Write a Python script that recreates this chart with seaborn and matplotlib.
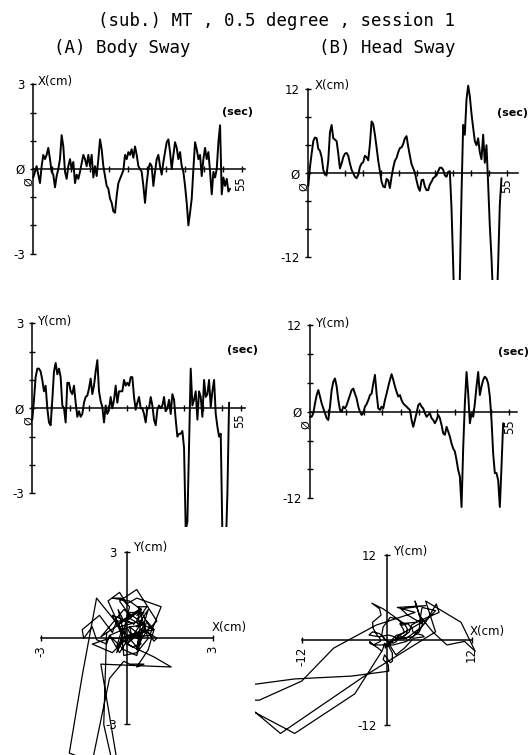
import numpy as np
import matplotlib
matplotlib.use("Agg")
import matplotlib.pyplot as plt
import seaborn as sns

# ---------------- data ----------------
DT_BODY = 0.44   # s between samples, body sway
DT_HEAD = 0.46   # s between samples, head sway

body_x = [
    -0.3, -0.1, 0.1, -0.2, -0.5, 0.1, 0.5, 0.35, 0.5, 0.75,
    0.35, -0.1, -0.2, -0.65, -0.25, 0.0, 0.35, 1.2, 0.8, -0.1,
    -0.35, 0.1, 0.35, 0.0, 0.25, -0.5, -0.2, -0.35, -0.1, 0.2,
    0.5, 0.35, 0.1, 0.5, 0.1, 0.5, -0.3, 0.1, -0.25, 0.35,
    1.05, 0.7, 0.1, -0.25, -0.6, -0.7, -1.05, -1.2, -1.5, -1.55,
    -0.95, -0.5, -0.35, -0.2, -0.05, 0.5, 0.35, 0.6, 0.5, 0.7,
    0.4, 0.8, 0.5, 0.1, 0.0, -0.1, -0.6, -1.2, -0.5, 0.0,
    0.2, 0.1, -0.6, -0.1, 0.35, 0.5, 0.1, -0.2, 0.25, 0.6,
    0.95, 1.05, 0.6, 0.0, 0.5, 0.95, 0.75, 0.35, 0.6, 0.1,
    -0.1, -0.6, -1.2, -2.0, -1.55, -1.05, 0.0, 0.95, 0.7, 0.35,
    0.5, -0.25, 0.35, 0.75, 0.35, 0.6, -0.1, -0.9, -0.1, -0.3,
    0.0, 0.95, 1.55, -0.9, -0.3, -0.6, -0.35, -0.8, -0.7,
]
body_y = [
    -0.4, 0.3, 1.1, 1.4, 1.4, 1.3, 1.0, 0.6, 0.8, 0.0,
    -0.5, -0.6, 0.3, 1.3, 1.6, 1.2, 1.4, 1.1, 0.1, 0.0,
    -0.5, 0.9, 0.9, 0.6, 0.5, 0.8, 0.2, -0.3, -0.1, -0.3,
    -0.2, 0.2, 0.4, 0.45, 0.7, 1.05, 0.5, 0.8, 1.3, 1.7,
    0.6, 0.25, 0.05, -0.5, 0.1, -0.2, -0.05, 0.4, 0.0, 0.3,
    0.8, 0.2, 0.6, 0.6, 0.6, 1.0, 0.8, 0.9, 0.8, 1.1,
    1.1, 0.4, -0.05, 0.2, 0.4, 0.0, 0.0, -0.2, -0.5, 0.0,
    0.0, 0.4, 0.1, -0.4, -0.6, -0.05, 0.1, 0.0, 0.1, 0.4,
    -0.1, 0.0, 0.3, -0.2, 0.5, 0.3, -0.4, -1.0, -0.9, -0.9,
    -0.8, -1.4, -4.3, -4.0, -1.3, 1.4, 0.1, 0.3, 0.6, -0.4,
    0.6, 0.4, -0.3, 1.0, 0.4, 0.5, 1.0, 0.05, 0.6, 1.0,
    -0.2, -0.65, -1.0, -0.9, -4.5, -5.0, -5.0, -3.0, 0.2,
]
head_x = [
    -1.8, 0.9, 2.8, 4.6, 5.1, 5.0, 3.5, 3.2, 2.3, 0.5,
    -0.2, -0.2, 1.85, 5.8, 6.9, 5.0, 4.8, 4.6, 2.8, 0.7,
    1.4, 2.3, 2.8, 2.9, 2.5, 1.4, 0.5, 0.0, -0.5, -0.7,
    -0.2, 0.9, 1.4, 1.6, 2.5, 2.3, 1.85, 4.15, 7.4, 7.0,
    5.5, 3.7, 1.8, 0.3, -1.2, -1.9, -2.0, -0.8, -1.0, -2.1,
    -0.5, 0.8, 1.8, 2.2, 3.0, 3.6, 3.7, 4.2, 5.0, 5.3,
    3.8, 2.5, 1.3, 0.7, 0.1, -1.0, -2.0, -2.5, -1.0, -0.9,
    -1.9, -2.4, -2.4, -1.6, -1.2, -0.7, -0.5, -0.3, 0.3, 0.8,
    0.8, 0.5, -0.3, -0.5, 0.2, 0.3, -5.0, -13.0, -22.0, -25.0,
    -20.0, -15.0, -3.0, 6.9, 5.5, 10.5, 12.5, 11.0, 8.5, 6.5,
    4.6, 4.0, 5.0, 3.0, 2.0, 5.5, 1.5, 4.0, -1.5, -7.5,
    -12.0, -18.0, -24.0, -20.0, -13.0, -4.5, -0.7,
]
head_y = [
    -0.7, -0.7, -0.2, 1.15, 2.3, 3.0, 2.1, 1.15, 0.45, -0.2,
    -0.9, -1.15, 0.7, 3.0, 4.15, 4.6, 3.5, 1.6, 0.25, 0.0,
    0.7, 0.45, 0.9, 1.6, 2.3, 3.0, 3.2, 2.5, 1.85, 0.7,
    0.0, -0.45, -0.2, 0.7, 1.05, 1.6, 2.3, 2.5, 3.9, 5.1,
    2.5, 0.45, 0.25, 0.7, 0.45, 1.6, 2.5, 3.5, 4.4, 5.2,
    4.4, 3.5, 2.75, 2.1, 2.3, 1.6, 1.15, 0.9, 0.7, 0.45,
    0.25, -1.15, -2.1, -1.15, -0.2, 0.9, 1.15, 0.7, 0.45, -0.2,
    -0.7, -0.45, -0.2, -0.9, -1.15, -1.6, -1.15, -0.45, -0.9, -1.85,
    -3.0, -3.2, -2.1, -2.75, -3.45, -4.4, -5.1, -5.5, -6.7, -8.1,
    -9.0, -13.2, -5.0, 1.15, 5.5, 2.5, -1.6, -0.2, -0.7, 1.15,
    3.5, 5.5, 2.3, 3.5, 4.4, 4.85, 4.6, 3.9, 2.1, -1.15,
    -5.8, -8.5, -8.5, -9.5, -13.2, -7.6, -1.6,
]

TITLE = "(sub.) MT , 0.5 degree , session 1"
SUB_A = "(A) Body Sway"
SUB_B = "(B) Head Sway"
T_END_LABEL = "55"
ZERO = "\u00d8"

t_body = np.arange(len(body_x)) * DT_BODY
t_head = np.arange(len(head_x)) * DT_HEAD

# ---------------- figure ----------------
sns.set_theme(style="white")
plt.rcParams["font.family"] = ["DejaVu Sans"]

W, H = 529, 755
fig = plt.figure(figsize=(W / 100, H / 100), dpi=100)
fig.patch.set_facecolor("white")


def fpos(x, y):
    return x / W, 1 - y / H


def ftext(x, y, s, **kw):
    kw.setdefault("fontsize", 8.5)
    kw.setdefault("color", "black")
    fig.text(*fpos(x, y), s, **kw)


def add_panel(x0, y0, sx, sy, xlim, ylim):
    left = x0 + xlim[0] * sx
    right = x0 + xlim[1] * sx
    top = y0 - ylim[1] * sy
    bottom = y0 - ylim[0] * sy
    ax = fig.add_axes([left / W, 1 - bottom / H, (right - left) / W, (bottom - top) / H])
    ax.set_xlim(*xlim)
    ax.set_ylim(*ylim)
    ax.patch.set_alpha(0)
    for s in ("top", "right"):
        ax.spines[s].set_visible(False)
    for s in ("left", "bottom"):
        ax.spines[s].set_position(("data", 0))
        ax.spines[s].set_color("black")
        ax.spines[s].set_linewidth(1.1)
    ax.tick_params(which="both", direction="inout", colors="black", width=1.0,
                   left=True, bottom=True, labelsize=8.5)
    ax.tick_params(which="major", length=4)
    ax.tick_params(which="minor", length=4)
    return ax


def ts_panel(x0, y0, sx, sy, xlim, ylim, xend, ymax, ystep, t, v,
             ylab, ylab_xy, sec_xy, zero_xy, end_xy):
    ax = add_panel(x0, y0, sx, sy, xlim, ylim)
    sns.lineplot(x=t, y=v, ax=ax, color="black", linewidth=1.4,
                 estimator=None, sort=False)
    ax.spines["left"].set_bounds(-ymax, ymax)
    ax.spines["bottom"].set_bounds(0, xend)
    ax.set_yticks([-ymax, 0, ymax], ["-%d" % ymax, ZERO, "%d" % ymax])
    ax.set_yticks([k for k in np.arange(-ymax, ymax + 0.1, ystep) if k not in (-ymax, 0, ymax)], minor=True)
    ax.set_xticks(np.arange(5, 56, 5), [""] * 11)
    ax.tick_params(axis="y", pad=4)
    ax.set_xlabel("")
    ax.set_ylabel("")
    ftext(*ylab_xy, ylab, ha="left", va="center", fontsize=8.5)
    ftext(*sec_xy, "(sec)", ha="left", va="center", fontsize=8, fontweight="bold")
    ftext(*zero_xy, ZERO, ha="center", va="center", rotation=90, fontsize=8)
    ftext(*end_xy, T_END_LABEL, ha="center", va="center", rotation=90, fontsize=8.5)
    return ax


# Body X
ts_panel(33.3, 169.0, 3.79, 28.2, (-2, 58), (-3.4, 3.4), 55.9, 3, 1,
         t_body, body_x, "X(cm)", (38, 82), (222, 112), (29.5, 182), (241, 184))
# Head X
ts_panel(308.3, 173.3, 3.62, 7.01, (-2, 58.5), (-15.2, 13.8), 58.0, 12, 4,
         t_head, head_x, "X(cm)", (315, 85), (497, 113), (304.5, 187), (507, 186))
# Body Y
ts_panel(32.3, 408.3, 3.79, 28.33, (-2, 58), (-4.2, 3.4), 56.0, 3, 1,
         t_body, body_y, "Y(cm)", (37, 321), (227, 350), (29, 421), (240, 421))
# Head Y
ts_panel(310.0, 411.7, 3.62, 7.22, (-2, 58), (-14.0, 13.5), 57.2, 12, 4,
         t_head, head_y, "Y(cm)", (315, 324), (498, 352), (306.5, 425), (510, 427))


def xy_panel(x0, y0, s, xlim, ylim, lim, x, y, ylab_xy, xlab_xy):
    ax = add_panel(x0, y0, s, s, xlim, ylim)
    sns.lineplot(x=x, y=y, ax=ax, color="black", linewidth=0.9,
                 estimator=None, sort=False)
    ax.spines["left"].set_bounds(-lim, lim)
    ax.spines["bottom"].set_bounds(-lim, lim)
    ax.set_xticks([-lim, lim], ["-%d" % lim, "%d" % lim], rotation=90)
    ax.set_yticks([-lim, lim], ["-%d" % lim, "%d" % lim])
    ax.tick_params(axis="x", pad=3)
    ax.tick_params(axis="y", pad=5)
    ax.set_xlabel("")
    ax.set_ylabel("")
    ftext(*ylab_xy, "Y(cm)", ha="left", va="center", fontsize=8.5)
    ftext(*xlab_xy, "X(cm)", ha="left", va="center", fontsize=8.5)
    return ax


xy_panel(126.7, 638.3, 28.7, (-3.3, 4.2), (-4.7, 3.3), 3,
         body_x, body_y, (133, 548), (212, 628))
xy_panel(386.7, 640.0, 7.08, (-18.6, 16.5), (-14.5, 13.0), 12,
         head_x, head_y, (393, 551), (470, 631))

# titles
ftext(276, 21, TITLE, ha="center", va="center", fontsize=12.5, family="DejaVu Sans Mono")
ftext(122, 48, SUB_A, ha="center", va="center", fontsize=12.5, family="DejaVu Sans Mono")
ftext(387, 48, SUB_B, ha="center", va="center", fontsize=12.5, family="DejaVu Sans Mono")

fig.savefig("out.png", dpi=100, facecolor="white")
